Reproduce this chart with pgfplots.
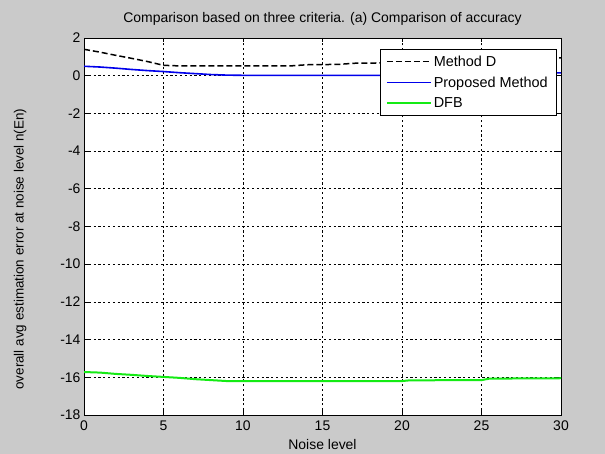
\documentclass[border=0pt]{standalone}
\usepackage{pgfplots}
\pgfplotsset{compat=1.18}
\usepackage{fontspec}
\setmainfont{Liberation Sans}
\definecolor{figbg}{RGB}{202,202,202}
\definecolor{mblue}{RGB}{0,0,235}
\definecolor{mgreen}{RGB}{20,235,20}
\pgfplotsset{
  longline legend/.style={legend image code/.code={\draw[##1] (0bp,0bp) -- (44bp,0bp);}},
}
\begin{document}
\begin{tikzpicture}
\fill[figbg] (0,0) rectangle (605bp,454bp);
\begin{axis}[
  at={(84bp,39bp)}, anchor=south west,
  width=477bp, height=377bp, scale only axis,
  xmin=0, xmax=30, ymin=-18, ymax=2,
  xtick={0,5,...,30}, ytick={-18,-16,...,2},
  axis background/.style={fill=white},
  axis line style={black, line width=0.8bp},
  tick align=inside, major tick length=4.5bp,
  tick style={black, line width=0.6bp},
  xtick pos=both, ytick pos=both,
  grid=major,
  major grid style={black, dash pattern=on 2.2bp off 2.6bp, line width=0.6bp},
  /pgf/number format/assume math mode=true,
  tick label style={font=\fontsize{14}{16}\selectfont},
  xticklabel style={yshift=-2bp},
  title={Comparison based on three criteria. (a) Comparison of accuracy},
  title style={at={(axis description cs:0.5,1)}, anchor=center, yshift=13bp, font=\fontsize{14}{16}\selectfont},
  xlabel={Noise level},
  xlabel style={at={(axis description cs:0.5,-0.077)}, anchor=center, font=\fontsize{14}{16}\selectfont},
  ylabel={overall avg estimation error at noise level n(En)},
  ylabel style={at={(axis description cs:-0.134,0.44)}, anchor=center, font=\fontsize{13.5}{15}\selectfont},
  legend style={at={(0.9895,0.971)}, anchor=north east,
    font=\fontsize{14.5}{16}\selectfont, inner xsep=6bp, inner ysep=2bp,
    nodes={inner ysep=4.5bp}},
  legend cell align=left,
  longline legend,
]
\addplot[black, line width=1.5bp, dash pattern=on 6bp off 3bp] coordinates {
(0,1.40) (1,1.25) (2,1.08) (3,0.92) (4,0.75) (5,0.55) (6,0.52) (13,0.52) (14,0.58) (16,0.60) (17,0.66) (19,0.68) (21,0.72) (23,0.78) (25,0.83) (27,0.88) (30,0.95)};
\addlegendentry{Method D}
\addplot[mblue, line width=1.6bp] coordinates {
(0,0.50) (1,0.46) (2,0.40) (3,0.33) (4,0.27) (5,0.22) (6,0.16) (7,0.11) (8,0.06) (9,0.03) (10,0.02) (20,0.02) (25,0.08) (30,0.15)};
\addlegendentry{Proposed Method}
\addplot[mgreen, line width=2bp] coordinates {
(0,-15.72) (1,-15.75) (2,-15.82) (3,-15.87) (4,-15.93) (5,-15.98) (6,-16.03) (7,-16.10) (8,-16.15) (9,-16.20) (20,-16.20) (20.5,-16.16) (25,-16.15) (25.5,-16.07) (30,-16.05)};
\addlegendentry{DFB}
\end{axis}
\end{tikzpicture}
\end{document}
